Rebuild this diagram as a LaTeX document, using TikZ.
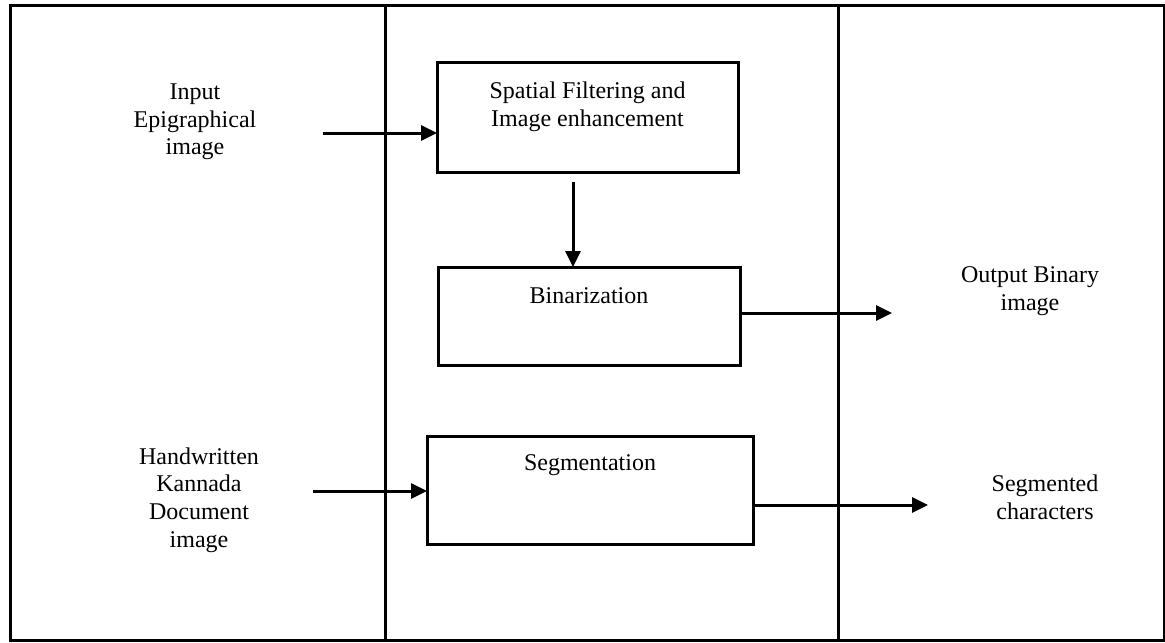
\documentclass[tikz,border=0pt]{standalone}
\usepackage{fontspec}
\setmainfont{Liberation Serif}
\usepackage{tikz}
\usetikzlibrary{arrows.meta, positioning, calc}

\begin{document}
\begin{tikzpicture}[
            x=0.5pt, y=-0.5pt,
            stage/.style={draw, line width=1.5pt, inner sep=0pt, outer sep=0pt},
            caption/.style={anchor=north, inner sep=0pt, align=center, font=\fontsize{12}{13.8}\selectfont},
            side/.style={align=center, inner sep=0pt, font=\fontsize{12}{13.8}\selectfont},
            flow/.style={line width=1.5pt, -{Triangle[length=8pt, width=7.5pt]}}
        ]
        \useasboundingbox (0,0) rectangle (1165,642);

        % The lanes
        \draw[line width=1.5pt] (10,6) rectangle (1164,640);
        \draw[line width=1.5pt] (385,6) -- (385,640);
        \draw[line width=1.5pt] (838,6) -- (838,640);

        % The boxes
        \node[stage, minimum width=150.5pt, minimum height=54.5pt,
              label={[caption, yshift=-9.3pt]north:Spatial Filtering and\\Image enhancement}] (filter) at (587.5,117.5) {};
        \node[stage, minimum width=151pt, minimum height=49pt,
              label={[caption, yshift=-10.3pt]north:Binarization}] (binar) at (589,316) {};
        \node[stage, minimum width=163pt, minimum height=54pt,
              label={[caption, yshift=-9.3pt]north:Segmentation}] (segm) at (590,490) {};

        % Inputs and outputs
        \node[side] (epig) at (195,122) {Input\\Epigraphical\\image};
        \node[side] (hand) at (199,500) {Handwritten\\Kannada\\Document\\image};
        \node[side] (binout) at (1030,291) {Output Binary\\image};
        \node[side] (segout) at (1045,497) {Segmented\\characters};

        % Arrows
        \coordinate (in1) at (323,133);
        \coordinate (down1) at (573,182);
        \coordinate (out1) at (892,313);
        \coordinate (in2) at (313,491);
        \coordinate (out2) at (928,505);
        \draw[flow] (in1) -- (in1 -| filter.west);
        \draw[flow] (down1) -- (down1 |- binar.north);
        \draw[flow] (out1 -| binar.east) -- (out1);
        \draw[flow] (in2) -- (in2 -| segm.west);
        \draw[flow] (out2 -| segm.east) -- (out2);

        \end{tikzpicture}
\end{document}
